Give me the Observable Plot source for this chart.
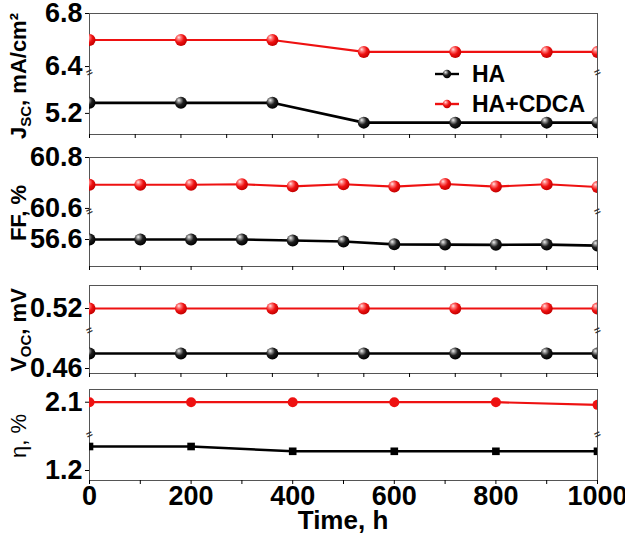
<!DOCTYPE html>
<html><head><meta charset="utf-8">
<script src="https://cdn.jsdelivr.net/npm/d3@7"></script>
<script src="https://cdn.jsdelivr.net/npm/@observablehq/plot@0.6"></script>
<style>
html,body{margin:0;padding:0;background:#fff;}
#chart{position:relative;width:625px;height:538px;}
#chart svg{display:block;overflow:visible;}
#overlay{position:absolute;left:0;top:0;pointer-events:none;}
</style></head><body>
<svg width="0" height="0" style="position:absolute">
  <defs>
    <radialGradient id="sphK" cx="38%" cy="35%" r="65%" fx="32%" fy="28%">
      <stop offset="0%" stop-color="#f4f4f4"/>
      <stop offset="22%" stop-color="#9a9a9a"/>
      <stop offset="55%" stop-color="#1e1e1e"/>
      <stop offset="100%" stop-color="#000"/>
    </radialGradient>
    <radialGradient id="sphR" cx="38%" cy="35%" r="65%" fx="32%" fy="28%">
      <stop offset="0%" stop-color="#ffe6e6"/>
      <stop offset="25%" stop-color="#ff7a7a"/>
      <stop offset="60%" stop-color="#ee1111"/>
      <stop offset="100%" stop-color="#c40000"/>
    </radialGradient>
  </defs>
</svg>
<div id="chart"></div>
<script>
// ---------- data ----------
const seriesNames = ["HA", "HA+CDCA"];
const seriesColors = ["#000000", "#ee1111"];

// Jsc (mA/cm2)
const jscTime  = [0, 180, 360, 540, 720, 900, 1000];
const jscHA    = [5.28, 5.28, 5.28, 5.13, 5.13, 5.13, 5.13];
const jscCDCA  = [6.60, 6.60, 6.60, 6.51, 6.51, 6.51, 6.51];
const jscTicks = [5.2, 6.4, 6.8];

// FF (%)
const ffTime   = [0, 100, 200, 300, 400, 500, 600, 700, 800, 900, 1000];
const ffHA     = [56.600, 56.600, 56.600, 56.600, 56.596, 56.592, 56.581, 56.580, 56.579, 56.580, 56.576];
const ffCDCA   = [60.693, 60.693, 60.693, 60.695, 60.687, 60.695, 60.686, 60.696, 60.686, 60.695, 60.684];
const ffTicks  = [56.6, 60.6, 60.8];

// Voc (mV)
const vocTime  = [0, 180, 360, 540, 720, 900, 1000];
const vocHA    = [0.472, 0.472, 0.472, 0.472, 0.472, 0.472, 0.472];
const vocCDCA  = [0.520, 0.520, 0.520, 0.520, 0.520, 0.520, 0.520];
const vocTicks = [0.46, 0.52];

// eta (%)
const etaTime  = [0, 200, 400, 600, 800, 1000];
const etaHA    = [1.50, 1.50, 1.44, 1.44, 1.44, 1.44];
const etaCDCA  = [2.10, 2.10, 2.10, 2.10, 2.10, 2.067];
const etaTicks = [1.2, 2.1];

// x ticks
const xTicks90  = [0, 90, 180, 270, 360, 450, 540, 630, 720, 810, 900, 1000];
const xTicks100 = [0, 100, 200, 300, 400, 500, 600, 700, 800, 900, 1000];
const xTickLabels = [0, 200, 400, 600, 800, 1000];

// ---------- layout ----------
const W = 625, ML = 89, MR = 28;
const FONT = "'Liberation Sans', Arial, Helvetica, sans-serif";
const FRAME = "#555";

// each panel = upper segment (CDCA) + lower segment (HA) of a broken y axis
const panels = [
  {key: "jsc", time: jscTime, ha: jscHA, cdca: jscCDCA, ticks: jscTicks, xticks: xTicks90, fmt: ".1f",
   up: {h: 72, mt: 13, domain: [6.355, 6.8]}, lo: {h: 73, mb: 11, domain: [5.04, 5.51]},
   sphere: true, titleY: 76},
  {key: "ff", time: ffTime, ha: ffHA, cdca: ffCDCA, ticks: ffTicks, xticks: xTicks100, fmt: ".1f",
   up: {h: 66, mt: 12, domain: [60.588, 60.8]}, lo: {h: 65, mb: 10, domain: [56.494, 56.71]},
   sphere: true, titleY: 213},
  {key: "voc", time: vocTime, ha: vocHA, cdca: vocCDCA, ticks: vocTicks, xticks: xTicks90, fmt: ".2f",
   up: {h: 54, mt: 9, domain: [0.5024, 0.5384]}, lo: {h: 51, mb: 8, domain: [0.456, 0.4904]},
   sphere: true, titleY: 330},
  {key: "eta", time: etaTime, ha: etaHA, cdca: etaCDCA, ticks: etaTicks, xticks: xTicks100, fmt: ".1f",
   up: {h: 53, mt: 8, domain: [1.696, 2.259]}, lo: {h: 104, mb: 58, domain: [1.075, 1.65]},
   sphere: false, titleY: 436, last: true}
];

const chart = document.getElementById("chart");

function segment(p, seg, isUpper, data, color, dotOpts) {
  const [d0, d1] = seg.domain;
  const ticks = p.ticks.filter(t => t >= d0 && t <= d1);
  const marks = [
    Plot.ruleX([0, 1000], {stroke: FRAME, strokeWidth: 1}),
    Plot.ruleY([isUpper ? d1 : d0], {stroke: FRAME, strokeWidth: 1}),
    Plot.axisY({ticks, tickSize: 4, tickPadding: 3, tickFormat: d3.format(p.fmt),
      fontSize: 27, fontWeight: "bold", label: null}),
    Plot.line(data, {x: "t", y: "v", stroke: color, strokeWidth: isUpper ? 2.2 : 2.6, clip: true}),
    Plot.dot(data, {x: "t", y: "v", clip: true, ...dotOpts})
  ];
  if (!isUpper) {
    marks.push(Plot.axisX({ticks: p.xticks, tickSize: 4, tickPadding: 1, label: null,
      tickFormat: p.last ? (d => xTickLabels.includes(d) ? String(d) : "") : (() => ""),
      fontSize: 27, fontWeight: "bold"}));
    // axis-break marks on the left and right spines
    marks.push(Plot.text([0, 1000], {x: d => d, y: () => d1, text: () => "=",
      rotate: -25, fontSize: 11, fontWeight: "bold", fill: "#333"}));
  }
  return Plot.plot({
    width: W, height: seg.h,
    marginLeft: ML, marginRight: MR,
    marginTop: isUpper ? seg.mt : 0, marginBottom: isUpper ? 0 : seg.mb,
    style: {fontFamily: FONT, color: "#000", background: "transparent", overflow: "visible"},
    x: {domain: [0, 1000], axis: isUpper ? null : undefined},
    y: {domain: seg.domain},
    marks
  });
}

panels.forEach(p => {
  const rows = (vals) => p.time.map((t, i) => ({t, v: vals[i]}));
  const ha = rows(p.ha), cdca = rows(p.cdca);
  const dotR = p.sphere ? {r: 6, fill: "url(#sphR)"} : {r: 5, fill: seriesColors[1]};
  const dotK = p.sphere ? {r: 6, fill: "url(#sphK)"} : {r: 4.3, symbol: "square", fill: seriesColors[0]};
  chart.appendChild(segment(p, p.up, true, cdca, seriesColors[1], dotR));
  chart.appendChild(segment(p, p.lo, false, ha, seriesColors[0], dotK));
});

// overlay: axis titles, legend, x title
const ov = d3.select(chart).append("svg").attr("id", "overlay")
  .attr("width", W).attr("height", 538)
  .attr("font-family", FONT).attr("fill", "#000");

panels.forEach(p => {
  const title = ov.append("text")
    .attr("transform", `translate(26,${p.titleY}) rotate(-90)`)
    .attr("text-anchor", "middle")
    .attr("font-size", 22)
    .attr("font-weight", "bold");
  if (p.key === "jsc") {
    title.append("tspan").text("J");
    title.append("tspan").attr("font-size", 15).attr("dy", 5).text("SC");
    title.append("tspan").attr("dy", -5).text(", mA/cm\u00B2");
  } else if (p.key === "ff") {
    title.text("FF, %");
  } else if (p.key === "voc") {
    title.append("tspan").text("V");
    title.append("tspan").attr("font-size", 15).attr("dy", 5).text("OC");
    title.append("tspan").attr("dy", -5).text(", mV");
  } else {
    title.attr("font-weight", "normal").text("\u03B7, %");
  }
});

const legendY = [74, 104];
seriesNames.forEach((name, i) => {
  const y = legendY[i];
  ov.append("line").attr("x1", 435).attr("x2", 459).attr("y1", y).attr("y2", y)
    .attr("stroke", seriesColors[i]).attr("stroke-width", 2.4);
  ov.append("circle").attr("cx", 447).attr("cy", y).attr("r", 4.2)
    .attr("fill", i ? "url(#sphR)" : "url(#sphK)");
  ov.append("text").attr("x", 472).attr("y", y).attr("dy", "0.35em")
    .attr("text-anchor", "start")
    .attr("font-size", 23).attr("font-weight", "bold").text(name);
});

ov.append("text").attr("x", 343).attr("y", 529).attr("text-anchor", "middle")
  .attr("font-size", 26).attr("font-weight", "bold").text("Time, h");
</script>
</body></html>
